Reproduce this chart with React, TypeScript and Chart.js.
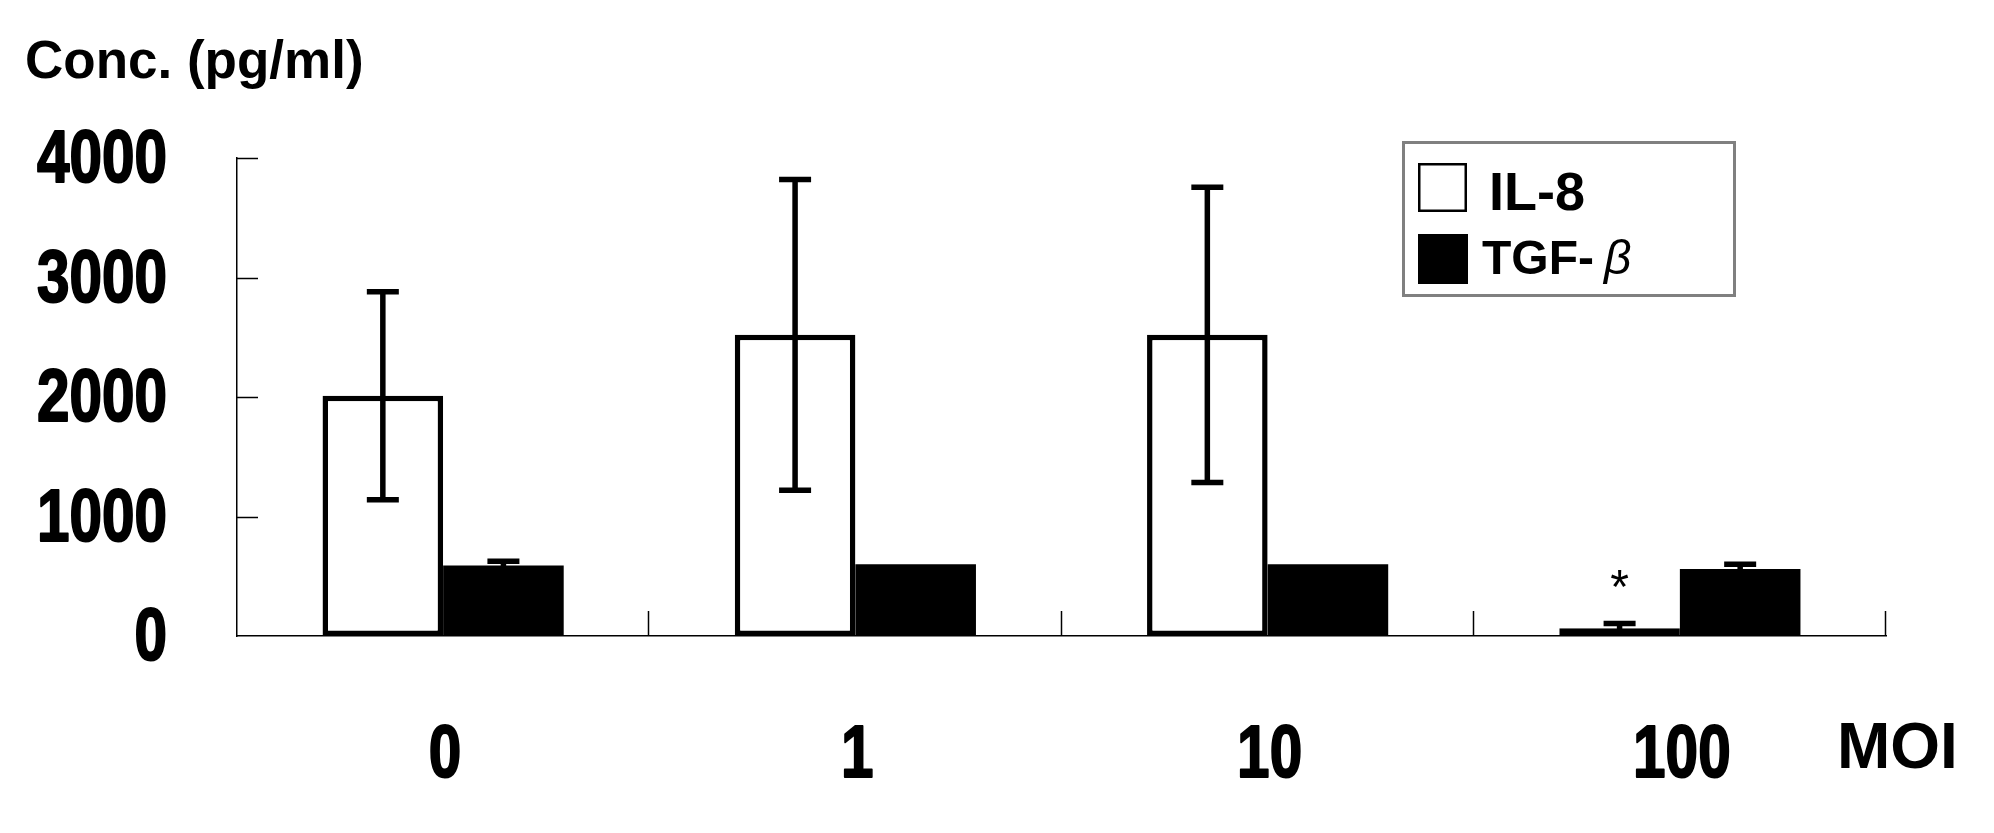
import React, { useEffect, useRef } from "react";
import { Chart, registerables } from "chart.js";

Chart.register(...registerables);

const categories = ["0", "1", "10", "100"];
const il8Values = [2010, 2520, 2520, 65];
const il8Errors = [870, 1300, 1235, 40];
const tgfValues = [590, 600, 600, 560];
const tgfErrors = [35, 0, 0, 40];
const yTickValues = [0, 1000, 2000, 3000, 4000];
const significantMarks = ["", "", "", "*"];

const SANS = "'Liberation Sans', Arial, sans-serif";
const TICK_FONT = `bold 74px ${SANS}`;
const TICK_SCALE_X = 0.79;

function drawNarrow(ctx: any, text: string, x: number, y: number, align: string) {
  ctx.save();
  ctx.translate(x, y);
  ctx.scale(TICK_SCALE_X, 1);
  ctx.font = TICK_FONT;
  ctx.fillStyle = "#000";
  ctx.strokeStyle = "#000";
  ctx.lineWidth = 2;
  ctx.lineJoin = "round";
  ctx.textAlign = align;
  ctx.textBaseline = "alphabetic";
  ctx.fillText(text, 0, 0);
  ctx.strokeText(text, 0, 0);
  ctx.restore();
}

const errorBarPlugin = {
  id: "errorBars",
  afterDatasetsDraw(chart: any) {
    const ctx = chart.ctx;
    const yScale = chart.scales.y;
    const errs = [il8Errors, tgfErrors];
    chart.data.datasets.forEach((ds: any, d: number) => {
      const meta = chart.getDatasetMeta(d);
      meta.data.forEach((bar: any, i: number) => {
        const v = ds.data[i];
        const e = errs[d][i];
        if (!e) return;
        const x = bar.x;
        const yTop = yScale.getPixelForValue(v + e);
        const yBot = yScale.getPixelForValue(Math.max(v - e, 0));
        ctx.save();
        ctx.strokeStyle = "#000";
        ctx.lineWidth = 5.5;
        ctx.lineCap = "butt";
        ctx.beginPath();
        ctx.moveTo(x, yBot);
        ctx.lineTo(x, yTop);
        ctx.moveTo(x - 16, yTop);
        ctx.lineTo(x + 16, yTop);
        ctx.moveTo(x - 16, yBot);
        ctx.lineTo(x + 16, yBot);
        ctx.stroke();
        ctx.restore();
        if (d === 0 && significantMarks[i]) {
          ctx.save();
          ctx.fillStyle = "#000";
          ctx.font = `48px ${SANS}`;
          ctx.textAlign = "center";
          ctx.textBaseline = "alphabetic";
          ctx.fillText(significantMarks[i], x, yTop - 20);
          ctx.restore();
        }
      });
    });
  },
};

const decorPlugin = {
  id: "decor",
  afterDraw(chart: any) {
    const ctx = chart.ctx;
    const xs = chart.scales.x;
    const ys = chart.scales.y;
    const area = chart.chartArea;
    ctx.save();
    ctx.strokeStyle = "#000";
    ctx.lineWidth = 1.5;
    ys.ticks.forEach((t: any) => {
      if (t.value === 0) return;
      const y = Math.round(ys.getPixelForValue(t.value)) + 0.5;
      ctx.beginPath();
      ctx.moveTo(area.left, y);
      ctx.lineTo(area.left + 21, y);
      ctx.stroke();
    });
    const n = categories.length;
    for (let i = 1; i <= n; i++) {
      const x = Math.round(xs.getPixelForDecimal(i / n)) - 0.5;
      ctx.beginPath();
      ctx.moveTo(x, area.bottom);
      ctx.lineTo(x, area.bottom - 25);
      ctx.stroke();
    }
    ctx.restore();

    ys.ticks.forEach((t: any) => {
      const y = ys.getPixelForValue(t.value);
      drawNarrow(ctx, String(t.value), area.left - 70, y + 24, "right");
    });
    categories.forEach((c, i) => {
      const x = xs.getPixelForValue(i);
      drawNarrow(ctx, c, x + 2, area.bottom + 141, "center");
    });

    ctx.save();
    ctx.fillStyle = "#000";
    ctx.textBaseline = "alphabetic";
    ctx.textAlign = "left";
    ctx.font = `bold 53px ${SANS}`;
    ctx.fillText("Conc. (pg/ml)", 25, 78);
    ctx.font = `bold 64px ${SANS}`;
    ctx.fillText("MOI", 1837, 768);

    ctx.strokeStyle = "#808080";
    ctx.lineWidth = 3;
    ctx.strokeRect(1403.5, 142.5, 331, 153);
    const ds = chart.data.datasets;
    ctx.fillStyle = ds[0].backgroundColor;
    ctx.fillRect(1418, 163, 49, 49);
    ctx.strokeStyle = ds[0].borderColor;
    ctx.lineWidth = 2.5;
    ctx.strokeRect(1419.25, 164.25, 46.5, 46.5);
    ctx.fillStyle = ds[1].backgroundColor;
    ctx.fillRect(1418, 234, 50, 50);
    ctx.fillStyle = "#000";
    ctx.font = `bold 54px ${SANS}`;
    ctx.fillText(ds[0].label, 1489, 210);
    ctx.font = `bold 48px ${SANS}`;
    const lbl = "TGF-";
    ctx.fillText(lbl, 1482, 274);
    const w = ctx.measureText(lbl).width;
    ctx.font = `italic 48px ${SANS}`;
    ctx.fillText("\u03B2", 1482 + w + 10, 274);
    ctx.restore();
  },
};

export default function App() {
  const ref = useRef<HTMLCanvasElement>(null);
  useEffect(() => {
    if (!ref.current) return;
    const chart = new Chart(ref.current, {
      type: "bar",
      data: {
        labels: categories,
        datasets: [
          {
            label: "IL-8",
            data: il8Values,
            backgroundColor: "#ffffff",
            borderColor: "#000000",
            borderWidth: 5.5,
            borderSkipped: false,
            categoryPercentage: 0.585,
            barPercentage: 1,
          },
          {
            label: "TGF-\u03B2",
            data: tgfValues,
            backgroundColor: "#000000",
            borderColor: "#000000",
            borderWidth: 0,
            borderSkipped: false,
            categoryPercentage: 0.585,
            barPercentage: 1,
          },
        ],
      },
      options: {
        animation: false,
        responsive: false,
        maintainAspectRatio: false,
        devicePixelRatio: 1,
        layout: { padding: { left: 0, right: 108, top: 158, bottom: 0 } },
        plugins: {
          legend: { display: false },
          title: { display: false },
          tooltip: { enabled: false },
        },
        scales: {
          x: {
            type: "category",
            grid: { display: false, drawTicks: false },
            border: { display: true, color: "#000", width: 1.5 },
            ticks: { display: false },
            afterFit: (s: any) => {
              s.height = 197;
            },
          },
          y: {
            min: 0,
            max: 4000,
            grid: { display: false, drawTicks: false },
            border: { display: true, color: "#000", width: 1.5 },
            afterBuildTicks: (s: any) => {
              s.ticks = yTickValues.map((v) => ({ value: v }));
            },
            ticks: { display: false },
            afterFit: (s: any) => {
              s.width = 237;
            },
          },
        },
      },
      plugins: [errorBarPlugin, decorPlugin],
    });
    return () => chart.destroy();
  }, []);
  return (
    <div style={{ position: "fixed", left: 0, top: 0, width: 1994, height: 833, background: "#fff" }}>
      <canvas ref={ref} width={1994} height={833} style={{ width: 1994, height: 833, display: "block" }} />
    </div>
  );
}
